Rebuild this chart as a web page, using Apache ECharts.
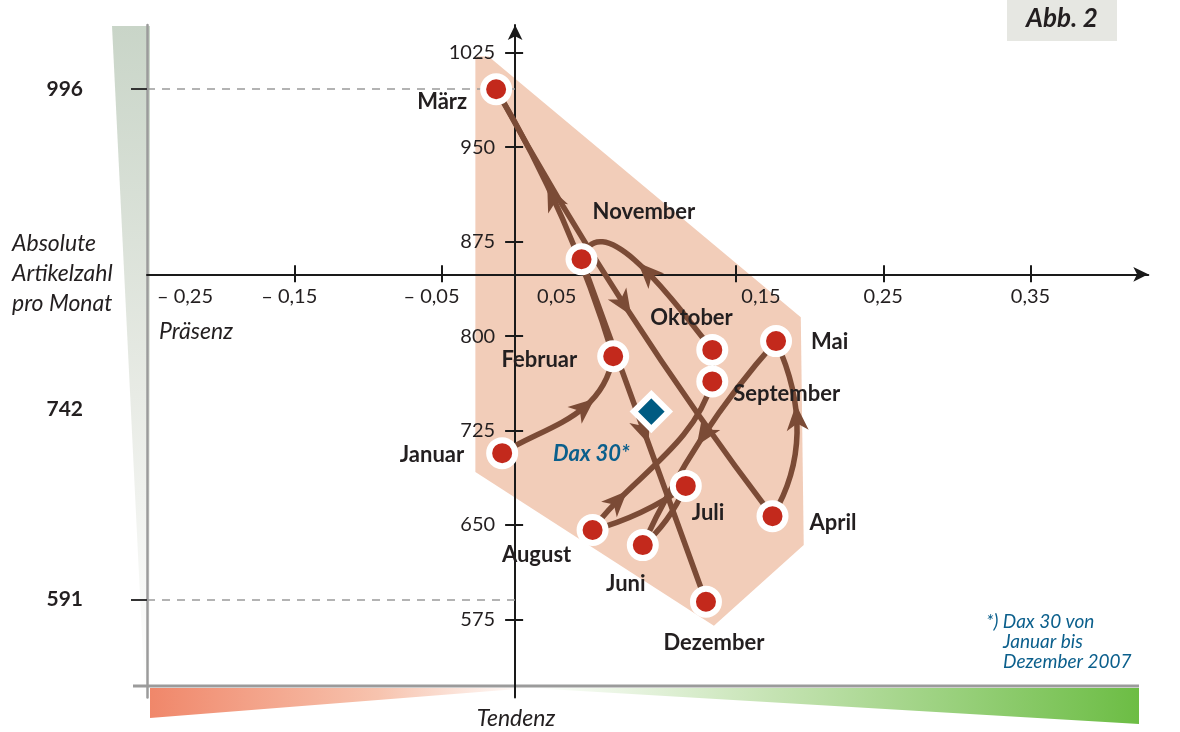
<!DOCTYPE html>
<html><head><meta charset="utf-8">
<script src="https://cdn.jsdelivr.net/npm/echarts@6/dist/echarts.min.js"></script>
<style>html,body{margin:0;padding:0;background:#fff}#c{width:1180px;height:732px}</style>
</head><body><div id="c"></div>
<script>
// ---------- data ----------
const months   = ['Januar','Februar','März','April','Mai','Juni','Juli','August','September','Oktober','November','Dezember'];
const presence = [-0.0088, 0.0666, -0.0129, 0.1748, 0.1772, 0.0867, 0.1159, 0.0526, 0.1339, 0.1339, 0.0451, 0.1296];
const articles = [707, 784, 996, 657, 796, 634, 681, 646, 764, 789, 861, 589];
const daxName = 'Dax 30*';
const daxPresence = [0.0925];
const daxArticles = [740];
const hullPresence = [-0.027, -0.018, 0.194, 0.196, 0.135, -0.027];
const hullArticles = [1022, 1022, 815, 634, 570, 692];
const yTickValues = [575, 650, 725, 800, 875, 950, 1025];
const xTickValues = [-0.15, -0.05, 0.05, 0.15, 0.25, 0.35];
const xLabelValues = [-0.25, -0.15, -0.05, 0.05, 0.15, 0.25, 0.35];
const leftAxisLabels = [996, 742, 591];
const leftAxisRefLines = [996, 591];
const footnote = ['*) Dax 30 von', 'Januar bis', 'Dezember 2007'];

// ---------- layout / style ----------
const W = 1180, H = 732;
const X_MIN = -0.25, X_MAX = 0.43, Y_MIN = 513, Y_MAX = 1047, X_CROSS = 849;
const GRID = {left: 147, right: 31.7, top: 25, bottom: 34.5};
const gridW = W - GRID.left - GRID.right, gridH = H - GRID.top - GRID.bottom;
const yOff = -gridW * (0 - X_MIN) / (X_MAX - X_MIN);
const xOff = -gridH * (X_CROSS - Y_MIN) / (Y_MAX - Y_MIN);
const FONT = 'Lato';
const INK = '#231f20';
const BROWN = '#7b4b36';
const RED = '#c3291c';
const PINK = '#f2cdb9';
const BLUE = '#0b5f8c';

// label placement per month: [align, dx, dy]
const labelPlace = [
  ['right', -38, 2], ['right', -36, 4], ['right', -29, 13], ['left', 37, 7],
  ['left', 35, 1], ['center', -17, 39], ['left', 6, 27], ['center', -56, 25],
  ['left', 21, 13], ['left', -62, -32], ['left', 11, -47], ['center', 8, 41]
];
// segment shape: [u1, v1, u2, v2, arrowT]
const segShape = [
  [0.333, 0.05, 0.667, 0.27, 0.62],
  [0.333, 0.04, 0.667, 0.04, 0.58],
  [0.333, 0.025, 0.667, 0.025, 0.49],
  [0.333, 0.19, 0.667, 0.16, 0.56],
  [0.333, 0.05, 0.667, 0.05, 0.48],
  [0.333, 0.09, 0.667, 0.07, null],
  [0.333, -0.06, 0.667, -0.06, null],
  [0.333, -0.02, 0.667, 0.14, 0.2],
  [0.333, 0, 0.667, 0, null],
  [0.36, 0.11, 1.11, 0.37, 0.45],
  [0.333, 0, 0.667, 0, 0.5]
];
// x label shifts (px) keyed by value
const xLabelShift = {'-0.25': 38, '-0.15': -5, '-0.05': -10, '0.05': -32, '0.15': 25, '0.25': 0, '0.35': 0};

function fmtX(v) {
  const s = Math.abs(v).toFixed(2).replace('.', ',');
  return (v < -1e-9 ? '\u2013 ' : '') + s;
}
const rich = {};
Object.keys(xLabelShift).forEach((k, i) => {
  const d = xLabelShift[k];
  rich['s' + i] = {fontFamily: FONT, fontSize: 20, color: INK,
    padding: d >= 0 ? [0, 0, 0, 2 * d] : [0, -2 * d, 0, 0]};
});
const shiftKeys = Object.keys(xLabelShift);

const segments = months.slice(0, -1).map((m, i) => [presence[i], articles[i], presence[i + 1], articles[i + 1]]);

function renderSeg(params, api) {
  const s = segShape[params.dataIndex];
  const p0 = api.coord([api.value(0), api.value(1)]);
  const p3 = api.coord([api.value(2), api.value(3)]);
  const dx = p3[0] - p0[0], dy = p3[1] - p0[1];
  const nx = -dy, ny = dx;
  const c1 = [p0[0] + s[0] * dx + s[1] * nx, p0[1] + s[0] * dy + s[1] * ny];
  const c2 = [p0[0] + s[2] * dx + s[3] * nx, p0[1] + s[2] * dy + s[3] * ny];
  const children = [{
    type: 'bezierCurve',
    shape: {x1: p0[0], y1: p0[1], x2: p3[0], y2: p3[1], cpx1: c1[0], cpy1: c1[1], cpx2: c2[0], cpy2: c2[1]},
    style: {stroke: BROWN, lineWidth: 5.5, fill: 'none'}
  }];
  if (s[4] != null) {
    const t = s[4], mt = 1 - t;
    const bx = mt*mt*mt*p0[0] + 3*mt*mt*t*c1[0] + 3*mt*t*t*c2[0] + t*t*t*p3[0];
    const by = mt*mt*mt*p0[1] + 3*mt*mt*t*c1[1] + 3*mt*t*t*c2[1] + t*t*t*p3[1];
    const tx = 3*mt*mt*(c1[0]-p0[0]) + 6*mt*t*(c2[0]-c1[0]) + 3*t*t*(p3[0]-c2[0]);
    const ty = 3*mt*mt*(c1[1]-p0[1]) + 6*mt*t*(c2[1]-c1[1]) + 3*t*t*(p3[1]-c2[1]);
    const a = Math.atan2(ty, tx), ca = Math.cos(a), sa = Math.sin(a);
    const local = [[14, 0], [-12, -11], [-5, 0], [-12, 11]];
    const pts = local.map(p => [bx + p[0]*ca - p[1]*sa, by + p[0]*sa + p[1]*ca]);
    children.push({type: 'polygon', shape: {points: pts}, style: {fill: BROWN}});
  }
  return {type: 'group', children};
}

function renderHull(params, api) {
  const pts = hullPresence.map((x, k) => api.coord([x, hullArticles[k]]));
  return {type: 'polygon', shape: {points: pts}, style: {fill: PINK}};
}

const axisLineStyle = {color: '#1a1a1a', width: 2};
const baseX = {type: 'value', min: X_MIN, max: X_MAX, position: 'bottom', offset: xOff,
  splitLine: {show: false}};
const baseY = {type: 'value', min: Y_MIN, max: Y_MAX, position: 'left', offset: yOff,
  splitLine: {show: false}};

const G = echarts.graphic;
const txt = (text, x, y, font, fill, align) => ({
  type: 'text', x, y, z: 10,
  style: {text, font, fill, align: align || 'left', textAlign: align || 'left', verticalAlign: 'middle', textVerticalAlign: 'middle'}
});

const option = {
  animation: false,
  grid: {left: GRID.left, right: GRID.right, top: GRID.top, bottom: GRID.bottom},
  xAxis: [
    Object.assign({}, baseX, {
      axisLine: {show: true, onZero: false, lineStyle: axisLineStyle, symbol: ['none', 'arrow'], symbolSize: [11, 15]},
      axisTick: {show: true, customValues: xTickValues, length: 8, lineStyle: {color: '#1a1a1a', width: 2}},
      axisLabel: {show: true, customValues: xLabelValues, margin: 12, fontFamily: FONT, fontSize: 20, color: INK,
        formatter: v => { const k = shiftKeys.indexOf(v.toFixed(2).replace('-0.00','0.00')); return '{s' + (k < 0 ? 5 : k) + '|' + fmtX(v) + '}'; },
        rich: rich}
    }),
    Object.assign({}, baseX, {
      axisLine: {show: false, onZero: false},
      axisTick: {show: true, inside: true, customValues: xTickValues, length: 9, lineStyle: {color: '#1a1a1a', width: 2}},
      axisLabel: {show: false}
    })
  ],
  yAxis: [
    Object.assign({}, baseY, {
      axisLine: {show: true, onZero: false, lineStyle: axisLineStyle, symbol: ['none', 'arrow'], symbolSize: [11, 15]},
      axisTick: {show: true, customValues: yTickValues, length: 10, lineStyle: {color: '#1a1a1a', width: 2}},
      axisLabel: {show: true, customValues: yTickValues, margin: 20, fontFamily: FONT, fontSize: 20, color: INK,
        formatter: v => String(Math.round(v))}
    }),
    Object.assign({}, baseY, {
      axisLine: {show: false, onZero: false},
      axisTick: {show: true, inside: true, customValues: yTickValues, length: 8, lineStyle: {color: '#1a1a1a', width: 2}},
      axisLabel: {show: false}
    }),
    {type: 'value', min: Y_MIN, max: Y_MAX, position: 'left', offset: 0, splitLine: {show: false},
      axisLine: {show: true, onZero: false, lineStyle: {color: '#9b9b9b', width: 2.5}},
      axisTick: {show: true, customValues: leftAxisRefLines, length: 16, lineStyle: {color: '#333', width: 2}},
      axisLabel: {show: true, customValues: leftAxisLabels, margin: 64, fontFamily: FONT, fontWeight: 'bold', fontSize: 21, color: INK,
        formatter: v => String(Math.round(v))}
    }
  ],
  graphic: [
    {type: 'polygon', z: -10, shape: {points: [[112, 26], [150, 26], [150, 697], [145, 697]]},
      style: {fill: new G.LinearGradient(0, 0, 0, 1, [{offset: 0, color: '#c9d5c8'}, {offset: 0.55, color: '#e8ebe5'}, {offset: 1, color: '#ffffff'}])}},
    {type: 'polygon', z: -10, shape: {points: [[150, 688], [530, 688], [150, 718]]},
      style: {fill: new G.LinearGradient(0, 0, 1, 0, [{offset: 0, color: '#f0876a'}, {offset: 0.6, color: '#f7c3ae'}, {offset: 1, color: '#ffffff'}])}},
    {type: 'polygon', z: -10, shape: {points: [[530, 688], [1139, 688], [1139, 724]]},
      style: {fill: new G.LinearGradient(0, 0, 1, 0, [{offset: 0, color: '#ffffff'}, {offset: 0.4, color: '#c5e3b3'}, {offset: 1, color: '#6cbd44'}])}},
    {type: 'line', z: -5, shape: {x1: 133, y1: 686, x2: 1139, y2: 686}, style: {stroke: '#9b9b9b', lineWidth: 3}},
    {type: 'rect', z: -5, shape: {x: 1007, y: 0, width: 110, height: 41}, style: {fill: '#e6e7e2'}},
    txt('Abb. 2', 1062, 19, 'italic bold 26px Lato', INK, 'center'),
    txt('Absolute', 12, 244, 'italic 23px Lato', INK),
    txt('Artikelzahl', 12, 274, 'italic 23px Lato', INK),
    txt('pro Monat', 12, 304, 'italic 23px Lato', INK),
    txt('Präsenz', 159, 332, 'italic 23px Lato', INK),
    txt('Tendenz', 516, 719, 'italic 23px Lato', INK, 'center'),
    txt(footnote[0], 986, 622, 'italic 19px Lato', BLUE),
    txt(footnote[1], 1003, 642, 'italic 19px Lato', BLUE),
    txt(footnote[2], 1003, 662, 'italic 19px Lato', BLUE)
  ],
  series: [
    {type: 'custom', name: 'hull', z: -1, silent: true, clip: false,
      renderItem: renderHull, data: [[hullPresence[0], hullArticles[0]]]},
    {type: 'line', name: 'ref', z: 1, silent: true, data: [], symbol: 'none',
      markLine: {silent: true, symbol: 'none', label: {show: false}, z: 1,
        lineStyle: {color: '#9a9a9a', width: 1.5, type: [8, 7]},
        data: leftAxisRefLines.map(v => [{coord: [X_MIN, v]}, {coord: [0, v]}])}},
    {type: 'custom', name: 'path', z: 3, silent: true, clip: false,
      encode: {x: [0, 2], y: [1, 3]}, renderItem: renderSeg, data: segments},
    {type: 'scatter', name: 'months', z: 6, symbol: 'circle', symbolSize: 26,
      itemStyle: {color: RED, borderColor: '#fff', borderWidth: 6, opacity: 1},
      label: {show: true, formatter: '{b}', fontFamily: FONT, fontWeight: 'bold', fontSize: 22, color: INK},
      data: months.map((m, i) => ({
        name: m, value: [presence[i], articles[i]],
        label: {position: 'inside', align: labelPlace[i][0], verticalAlign: 'middle', offset: [labelPlace[i][1], labelPlace[i][2]]}
      }))},
    {type: 'scatter', name: 'dax', z: 6, symbol: 'diamond', symbolSize: 35,
      itemStyle: {color: '#005b82', borderColor: '#fff', borderWidth: 6, opacity: 1},
      label: {show: true, position: 'inside', formatter: '{b}', align: 'center', verticalAlign: 'middle', offset: [-60, 42],
        fontFamily: FONT, fontStyle: 'italic', fontWeight: 'bold', fontSize: 22, color: BLUE},
      data: daxPresence.map((x, i) => ({name: daxName, value: [x, daxArticles[i]]}))}
  ]
};

const chart = echarts.init(document.getElementById('c'), null, {renderer: 'canvas', width: W, height: H});
chart.setOption(option);
</script>
</body></html>
